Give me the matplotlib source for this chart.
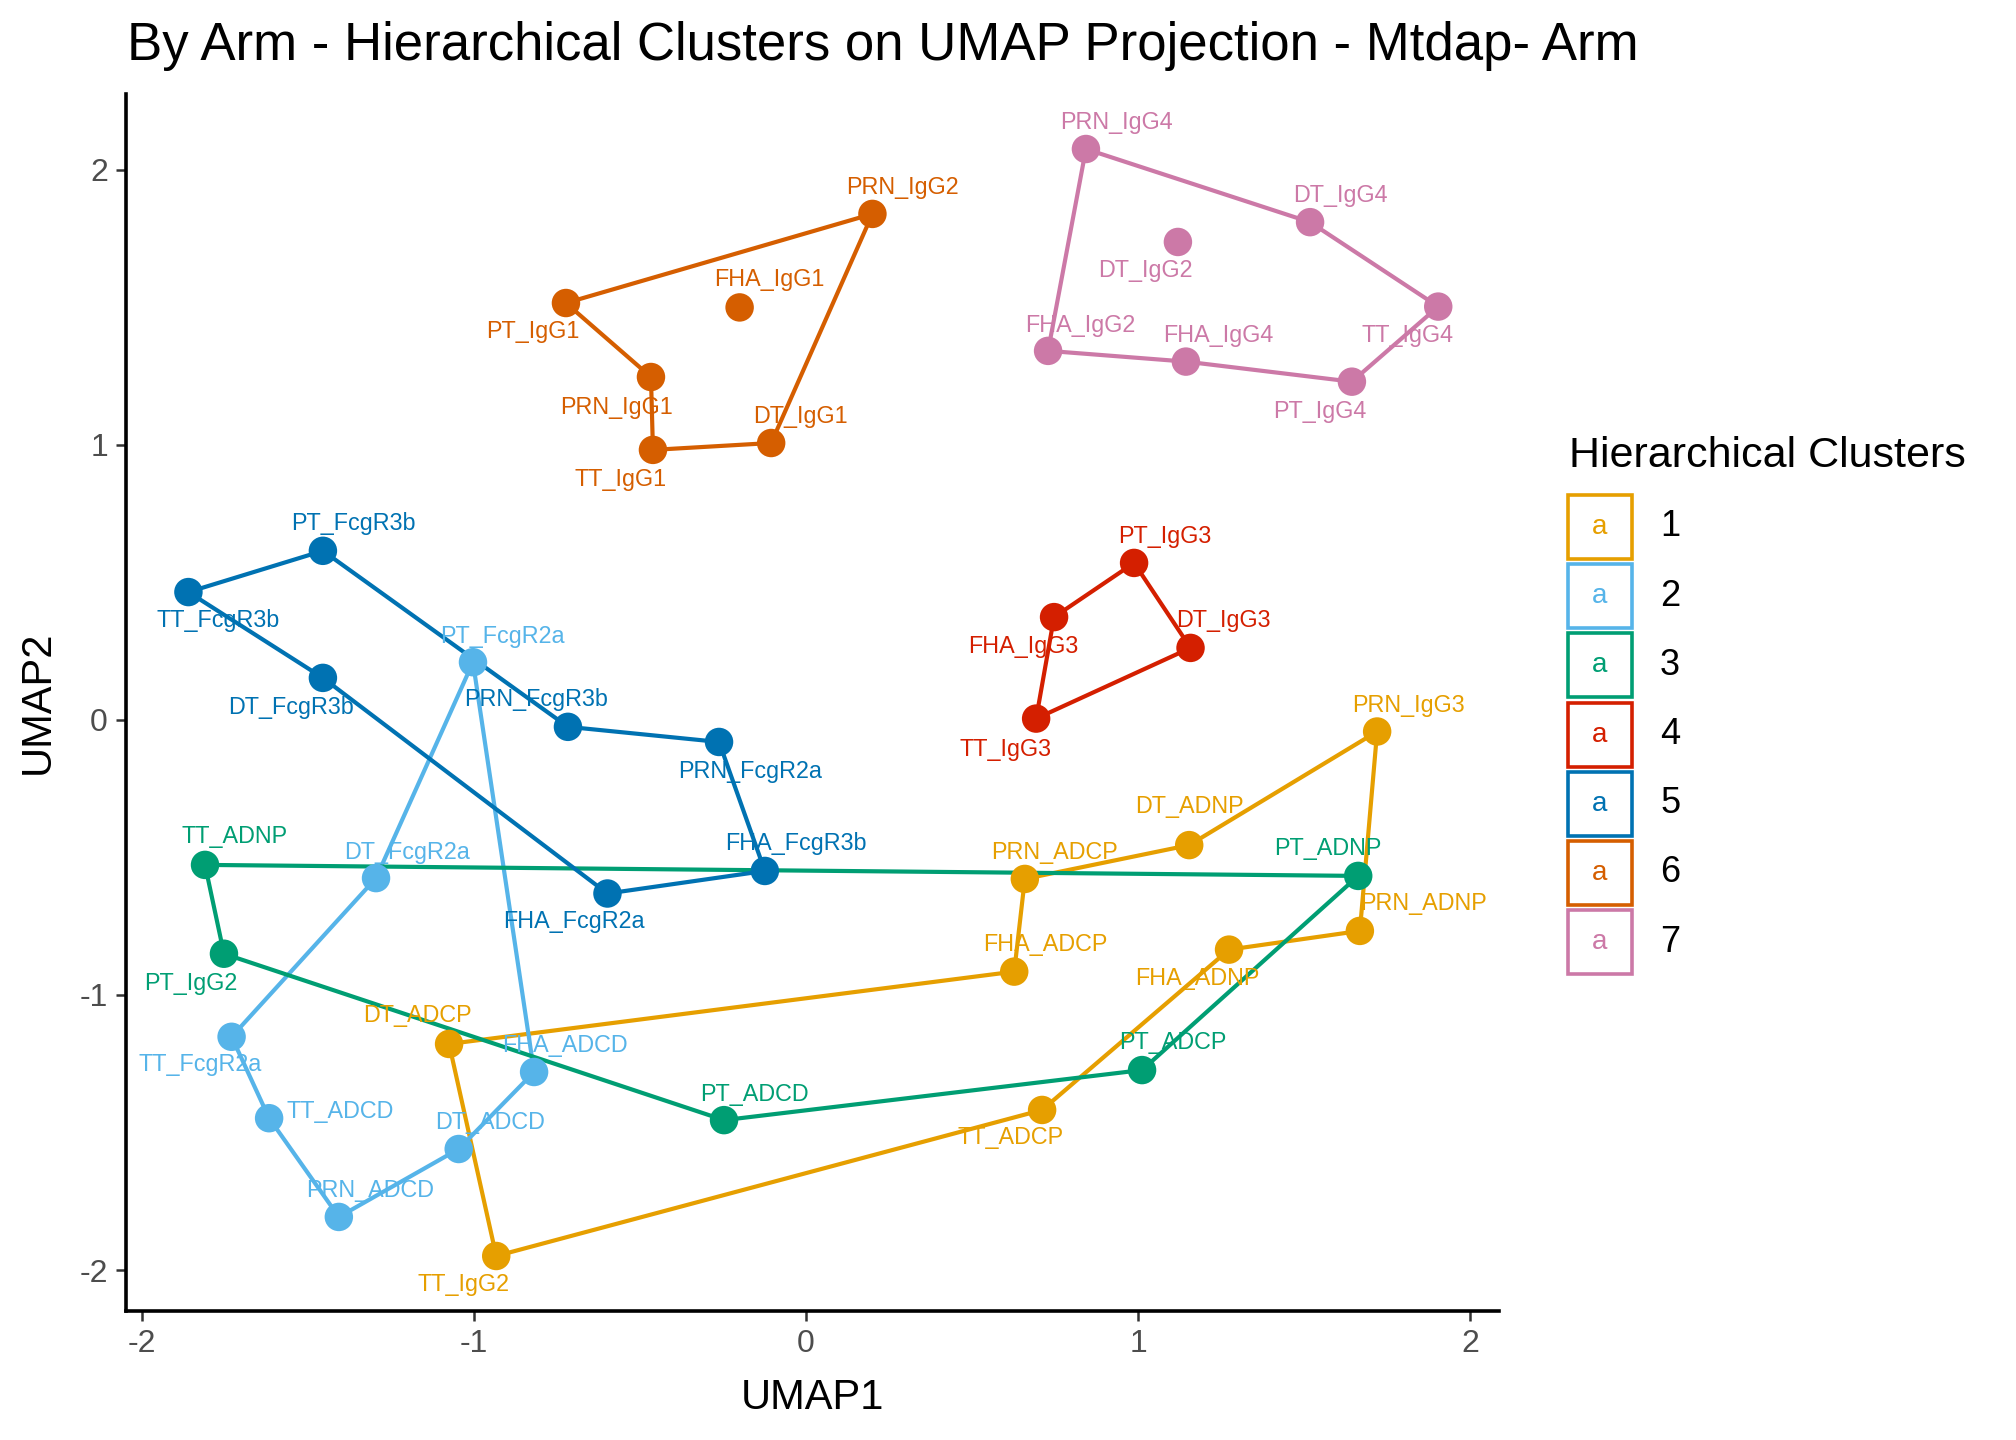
import numpy as np
import matplotlib
matplotlib.use('Agg')
import matplotlib.pyplot as plt
from matplotlib.patches import Rectangle

plt.rcParams['font.family'] = ['Liberation Sans', 'DejaVu Sans']
plt.rcParams['axes.unicode_minus'] = False

# Data
features = ['PRN_IgG3', 'DT_ADNP', 'PRN_ADCP', 'FHA_ADCP', 'FHA_ADNP', 'PRN_ADNP', 'DT_ADCP', 'TT_ADCP', 'TT_IgG2',
            'PT_FcgR2a', 'DT_FcgR2a', 'TT_FcgR2a', 'TT_ADCD', 'FHA_ADCD', 'DT_ADCD', 'PRN_ADCD',
            'TT_ADNP', 'PT_IgG2', 'PT_ADCD', 'PT_ADCP', 'PT_ADNP',
            'PT_IgG3', 'FHA_IgG3', 'DT_IgG3', 'TT_IgG3',
            'PT_FcgR3b', 'TT_FcgR3b', 'DT_FcgR3b', 'PRN_FcgR3b', 'PRN_FcgR2a', 'FHA_FcgR3b', 'FHA_FcgR2a',
            'PRN_IgG2', 'FHA_IgG1', 'PT_IgG1', 'PRN_IgG1', 'DT_IgG1', 'TT_IgG1',
            'PRN_IgG4', 'DT_IgG4', 'DT_IgG2', 'FHA_IgG2', 'FHA_IgG4', 'TT_IgG4', 'PT_IgG4']

umap1 = [1.72, 1.154, 0.659, 0.627, 1.274, 1.668, -1.075, 0.711, -0.933,
         -1.003, -1.295, -1.73, -1.617, -0.819, -1.046, -1.407,
         -1.81, -1.753, -0.247, 1.012, 1.663,
         0.988, 0.747, 1.158, 0.693,
         -1.455, -1.86, -1.455, -0.717, -0.262, -0.124, -0.598,
         0.20, -0.20, -0.723, -0.467, -0.105, -0.461,
         0.843, 1.518, 1.12, 0.729, 1.144, 1.904, 1.644]

umap2 = [-0.042, -0.455, -0.578, -0.915, -0.835, -0.767, -1.178, -1.418, -1.949,
         0.21, -0.575, -1.152, -1.448, -1.28, -1.56, -1.807,
         -0.527, -0.85, -1.455, -1.273, -0.567,
         0.571, 0.374, 0.262, 0.005,
         0.615, 0.465, 0.153, -0.025, -0.08, -0.549, -0.631,
         1.84, 1.50, 1.516, 1.247, 1.007, 0.982,
         2.076, 1.81, 1.738, 1.342, 1.303, 1.503, 1.23]

clusters = [1] * 9 + [2] * 7 + [3] * 5 + [4] * 4 + [5] * 7 + [6] * 6 + [7] * 7

# where the repelled labels ended up
label_x = [1.814, 1.155, 0.748, 0.721, 1.178, 1.860, -1.171, 0.616, -1.031,
           -0.915, -1.202, -1.826, -1.403, -0.725, -0.953, -1.314,
           -1.721, -1.853, -0.155, 1.105, 1.570,
           1.081, 0.655, 1.256, 0.601,
           -1.364, -1.771, -1.550, -0.814, -0.167, -0.031, -0.698,
           0.29, -0.112, -0.822, -0.570, -0.016, -0.558,
           0.934, 1.609, 1.023, 0.826, 1.240, 1.810, 1.547]
label_y = [0.051, -0.313, -0.481, -0.818, -0.939, -0.668, -1.075, -1.519, -2.051,
           0.304, -0.481, -1.252, -1.425, -1.182, -1.463, -1.710,
           -0.425, -0.958, -1.360, -1.173, -0.467,
           0.668, 0.266, 0.360, -0.107,
           0.715, 0.360, 0.047, 0.075, -0.187, -0.449, -0.734,
           1.935, 1.603, 1.411, 1.136, 1.103, 0.874,
           2.173, 1.907, 1.636, 1.435, 1.397, 1.397, 1.121]

# hull outline order per cluster
hull_order = {
    1: ['PRN_IgG3', 'DT_ADNP', 'PRN_ADCP', 'FHA_ADCP', 'DT_ADCP', 'TT_IgG2', 'TT_ADCP', 'FHA_ADNP', 'PRN_ADNP'],
    2: ['PT_FcgR2a', 'DT_FcgR2a', 'TT_FcgR2a', 'TT_ADCD', 'PRN_ADCD', 'DT_ADCD', 'FHA_ADCD'],
    3: ['TT_ADNP', 'PT_IgG2', 'PT_ADCD', 'PT_ADCP', 'PT_ADNP'],
    4: ['PT_IgG3', 'FHA_IgG3', 'TT_IgG3', 'DT_IgG3'],
    5: ['TT_FcgR3b', 'PT_FcgR3b', 'PRN_FcgR3b', 'PRN_FcgR2a', 'FHA_FcgR3b', 'FHA_FcgR2a', 'DT_FcgR3b'],
    6: ['PT_IgG1', 'PRN_IgG2', 'DT_IgG1', 'TT_IgG1', 'PRN_IgG1'],
    7: ['PRN_IgG4', 'DT_IgG4', 'TT_IgG4', 'PT_IgG4', 'FHA_IgG4', 'FHA_IgG2'],
}

cluster_ids = [1, 2, 3, 4, 5, 6, 7]
cluster_colors = ['#E69F00', '#56B4E9', '#009E73', '#D41F00', '#0072B2', '#D55E00', '#CC79A7']

W, H = 2016, 1440
fig = plt.figure(figsize=(W / 100, H / 100), dpi=100)
ax = fig.add_axes([126 / W, 1 - 1311 / H, (1499 - 126) / W, (1311 - 94) / H])

pos = {f: (x, y) for f, x, y in zip(features, umap1, umap2)}
color_of = dict(zip(cluster_ids, cluster_colors))

for cid in cluster_ids:
    pts = [pos[f] for f in hull_order[cid]]
    pts.append(pts[0])
    hx, hy = zip(*pts)
    ax.plot(hx, hy, color=color_of[cid], lw=3.0, zorder=2, solid_joinstyle='round')

point_colors = [color_of[c] for c in clusters]
ax.scatter(umap1, umap2, s=420, c=point_colors, edgecolors='none', zorder=3)

for f, lx, ly, c in zip(features, label_x, label_y, clusters):
    ax.text(lx, ly, f, color=color_of[c], fontsize=16.8, ha='center', va='center', zorder=4)

ax.set_xlim(-2.048, 2.087)
ax.set_ylim(-2.149, 2.276)
ax.set_xticks([-2, -1, 0, 1, 2])
ax.set_yticks([-2, -1, 0, 1, 2])
ax.tick_params(labelsize=23, labelcolor='#4D4D4D', color='#333333', length=7, width=1.8, pad=6)
for side in ['top', 'right']:
    ax.spines[side].set_visible(False)
for side in ['left', 'bottom']:
    ax.spines[side].set_linewidth(2.6)

fig.text(812 / W, 1 - 1409 / H, 'UMAP1', fontsize=30, ha='center', va='baseline')
fig.text(38 / W, 1 - 702 / H, 'UMAP2', fontsize=30, ha='center', va='center', rotation=90)
fig.text(127 / W, 1 - 60 / H, 'By Arm - Hierarchical Clusters on UMAP Projection - Mtdap- Arm',
         fontsize=38, ha='left', va='baseline')

# legend drawn by hand: outlined box with a coloured "a", then the cluster number
lax = fig.add_axes([0, 0, 1, 1])
lax.set_xlim(0, W)
lax.set_ylim(H, 0)
lax.axis('off')
lax.text(1569, 467, 'Hierarchical Clusters', fontsize=31, ha='left', va='baseline')
box_size = 64
step = 69.2
for i, (cid, col) in enumerate(zip(cluster_ids, cluster_colors)):
    top = 495 + i * step
    lax.add_patch(Rectangle((1568, top), box_size, box_size, fill=False, ec=col, lw=2.6))
    lax.text(1568 + box_size / 2, top + box_size / 2, 'a', color=col, fontsize=20, ha='center', va='center')
    lax.text(1660, top + box_size / 2, str(cid), fontsize=26, ha='left', va='center')

fig.savefig('out.png', dpi=100, facecolor='white')
